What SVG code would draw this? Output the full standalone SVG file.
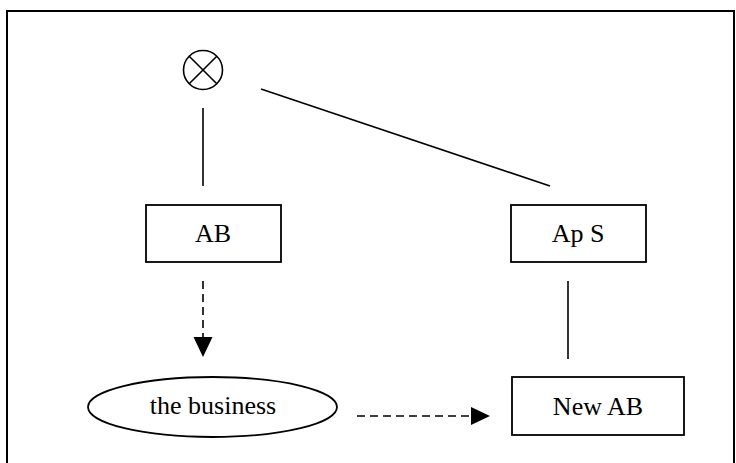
<svg xmlns="http://www.w3.org/2000/svg" width="736" height="463" viewBox="0 0 736 463">
<style>
.b{fill:#fff;stroke:#000;stroke-width:1.8}
.l{stroke:#000;stroke-width:1.6;fill:none}
.d{stroke:#000;stroke-width:1.6;fill:none;stroke-dasharray:8 5}
.t{font-family:"Liberation Serif","Times New Roman",serif;font-size:26px;fill:#000;text-anchor:middle}
</style>
<rect x="0" y="0" width="736" height="463" fill="#fff"/>
<path d="M7,470 L7,11 L734,11 L734,470" fill="none" stroke="#000" stroke-width="2"/>
<g id="connectors">
<line class="l" x1="203" y1="108" x2="203" y2="186"/>
<line class="l" x1="261" y1="89" x2="550" y2="186"/>
<line class="l" x1="568" y1="281" x2="568" y2="359"/>
<path d="M203,281 L203,338" class="d"/>
<path d="M203,357 L193.5,337 L212.5,337 z" fill="#000"/>
<path d="M357,416 L472,416" class="d"/>
<path d="M490,416 L471,407 L471,425 z" fill="#000"/>
</g>
<g id="xor">
<circle class="l" cx="203" cy="70" r="19.5"/>
<line class="l" x1="189.2" y1="56.2" x2="216.8" y2="83.8"/>
<line class="l" x1="216.8" y1="56.2" x2="189.2" y2="83.8"/>
</g>
<g id="ab">
<rect class="b" x="146" y="205" width="135" height="57"/>
<text class="t" x="213" y="242">AB</text>
</g>
<g id="aps">
<rect class="b" x="511" y="205" width="135" height="57"/>
<text class="t" x="578" y="242">Ap S</text>
</g>
<g id="business">
<ellipse class="b" cx="212.5" cy="407" rx="124.5" ry="30"/>
<text class="t" x="213" y="414">the business</text>
</g>
<g id="newab">
<rect class="b" x="512" y="377" width="172" height="58"/>
<text class="t" x="598" y="415">New AB</text>
</g>
</svg>
